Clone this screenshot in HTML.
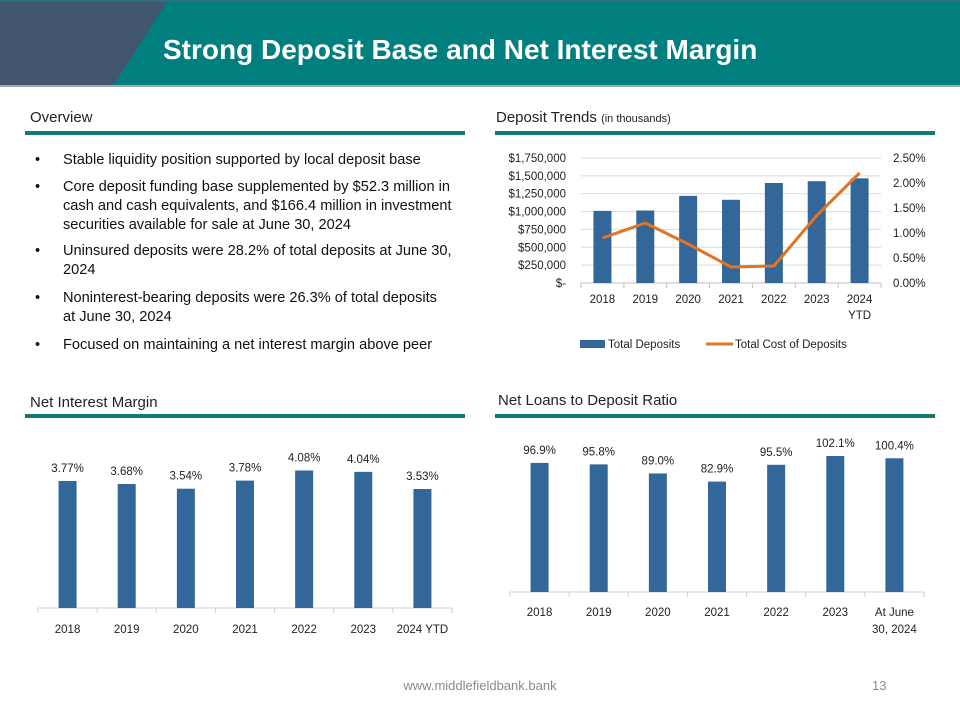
<!DOCTYPE html>
<html><head><meta charset="utf-8">
<style>
body{margin:0;width:960px;height:720px;overflow:hidden;background:#fff;font-family:"Liberation Sans",sans-serif;position:relative}
.abs{position:absolute}
.hdr{font-size:15px;color:#222}
.rule{position:absolute;height:4px;background:#137a72}
.bl{position:absolute;left:35px;font-size:14.6px;color:#111;line-height:19px}
.bl span{position:absolute;left:28px;width:440px;white-space:nowrap}
svg text{font-family:"Liberation Sans",sans-serif}
</style></head><body>
<svg class="abs" style="left:0;top:0" width="960" height="90">
<rect x="0" y="0" width="960" height="86" fill="#007f7e"/>
<polygon points="0,0 168,0 113,86 0,86" fill="#435670"/>
<rect x="0" y="0" width="960" height="2" fill="#2e6f86"/>
<rect x="0" y="85" width="960" height="2" fill="#9aa9b3"/>
<text x="163" y="59" fill="#fff" font-size="28" font-weight="bold">Strong Deposit Base and Net Interest Margin</text>
</svg>

<div class="abs hdr" style="left:30px;top:109px">Overview</div>
<div class="rule" style="left:25px;top:131px;width:440px"></div>
<div class="abs hdr" style="left:496px;top:109px">Deposit Trends <span style="font-size:11px">(in thousands)</span></div>
<div class="rule" style="left:495px;top:131px;width:440px"></div>
<div class="abs hdr" style="left:30px;top:394px">Net Interest Margin</div>
<div class="rule" style="left:25px;top:414px;width:440px"></div>
<div class="abs hdr" style="left:498px;top:392px">Net Loans to Deposit Ratio</div>
<div class="rule" style="left:495px;top:414px;width:440px"></div>

<div class="bl" style="top:151px">•<span>Stable liquidity position supported by local deposit base</span></div>
<div class="bl" style="top:178px">•<span>Core deposit funding base supplemented by $52.3 million in<br>cash and cash equivalents, and $166.4 million in investment<br>securities available for sale at June 30, 2024</span></div>
<div class="bl" style="top:242px">•<span>Uninsured deposits were 28.2% of total deposits at June 30,<br>2024</span></div>
<div class="bl" style="top:289px">•<span>Noninterest-bearing deposits were 26.3% of total deposits<br>at June 30, 2024</span></div>
<div class="bl" style="top:336px">•<span>Focused on maintaining a net interest margin above peer</span></div>

<svg id="dep" class="abs" style="left:0;top:0" width="960" height="720"></svg>

<div class="abs" style="left:0;width:960px;top:678px;text-align:center;font-size:13px;color:#8a8a8a">www.middlefieldbank.bank</div>
<div class="abs" style="left:872px;top:678px;font-size:13px;color:#8a8a8a">13</div>

<script>
const depCats=["2018","2019","2020","2021","2022","2023","2024"];
const depValues=[1010000,1015000,1220000,1165000,1400000,1425000,1465000];
const depCost=[0.90,1.20,0.78,0.32,0.34,1.35,2.20];
const depLeftTicks=["$-","$250,000","$500,000","$750,000","$1,000,000","$1,250,000","$1,500,000","$1,750,000"];
const depRightTicks=["0.00%","0.50%","1.00%","1.50%","2.00%","2.50%"];
const nimCats=["2018","2019","2020","2021","2022","2023","2024 YTD"];
const nimValues=[3.77,3.68,3.54,3.78,4.08,4.04,3.53];
const nimLabels=["3.77%","3.68%","3.54%","3.78%","4.08%","4.04%","3.53%"];
const loanCats=["2018","2019","2020","2021","2022","2023","At June|30, 2024"];
const loanValues=[96.9,95.8,89.0,82.9,95.5,102.1,100.4];
const loanLabels=["96.9%","95.8%","89.0%","82.9%","95.5%","102.1%","100.4%"];

const svg=document.getElementById('dep');const NS="http://www.w3.org/2000/svg";
function el(t,a,txt){const e=document.createElementNS(NS,t);for(const k in a)e.setAttribute(k,a[k]);if(txt!==undefined)e.textContent=txt;svg.appendChild(e);return e;}
const BLUE="#336699";

const dx0=581,dx1=881,dy0=283,dy1=158,dBand=(dx1-dx0)/depCats.length;
const dX=i=>dx0+dBand*(i+0.5);
const dY=v=>dy0-(v/1750000)*(dy0-dy1);
const dY2=v=>dy0-(v/2.5)*(dy0-dy1);
depLeftTicks.forEach((t,i)=>{const y=dY(i*250000);
 let g=el('line',{x1:dx0,x2:dx1,y1:y,y2:y,stroke:i?"#d9d9d9":"#bfbfbf"});
 let tx=el('text',{x:566,y:y+4,'text-anchor':'end','font-size':11.5,fill:'#222'},t);});
depRightTicks.forEach((t,i)=>{const y=dY2(i*0.5);
 let tx=el('text',{x:893,y:y+4,'font-size':11.5,fill:'#222'},t);});
for(let i=0;i<=depCats.length;i++){let t=el('line',{x1:dx0+dBand*i,x2:dx0+dBand*i,y1:dy0,y2:dy0+5,stroke:'#bfbfbf'});}
depCats.forEach((c,i)=>{
 let r=el('rect',{x:dX(i)-9,y:dY(depValues[i]),width:18,height:dy0-dY(depValues[i]),fill:BLUE});
 let t=el('text',{x:dX(i),y:303,'text-anchor':'middle','font-size':11.5,fill:'#222'},c);});
let ytd=el('text',{x:dX(6),y:319,'text-anchor':'middle','font-size':11.5,fill:'#222'},"YTD");
let pl=el('polyline',{points:depCost.map((v,i)=>dX(i)+','+dY2(v)).join(' '),fill:'none',stroke:'#e07325','stroke-width':3});
let ls=el('rect',{x:580,y:340,width:25,height:8,fill:BLUE});
let lt=el('text',{x:608,y:348,'font-size':11.5,fill:'#222'},"Total Deposits");
let ll=el('line',{x1:706,x2:733,y1:344,y2:344,stroke:'#e07325','stroke-width':3});
let lt2=el('text',{x:735,y:348,'font-size':11.5,fill:'#222'},"Total Cost of Deposits");

function bars(name,cats,vals,labs,x0,x1,y0,pxPer,labY){
 const band=(x1-x0)/cats.length;
 let ax=el('line',{x1:x0,x2:x1,y1:y0,y2:y0,stroke:'#d0d0d0'});
 for(let i=0;i<=cats.length;i++){let t=el('line',{x1:x0+band*i,x2:x0+band*i,y1:y0,y2:y0+5,stroke:'#d0d0d0'});}
 cats.forEach((c,i)=>{const cx=x0+band*(i+0.5),top=y0-vals[i]*pxPer;
  let r=el('rect',{x:cx-9,y:top,width:18,height:y0-top,fill:BLUE});
  let l=el('text',{x:cx,y:top-9,'text-anchor':'middle','font-size':11.5,fill:'#222'},labs[i]);
  c.split('|').forEach((p,k)=>{let t=el('text',{x:cx,y:labY+k*17,'text-anchor':'middle','font-size':11.5,fill:'#222'},p);});});
}
bars('nim',nimCats,nimValues,nimLabels,38,452,608,33.7,633);
bars('loans',loanCats,loanValues,loanLabels,510,924,592,1.332,616);
</script>
</body></html>
